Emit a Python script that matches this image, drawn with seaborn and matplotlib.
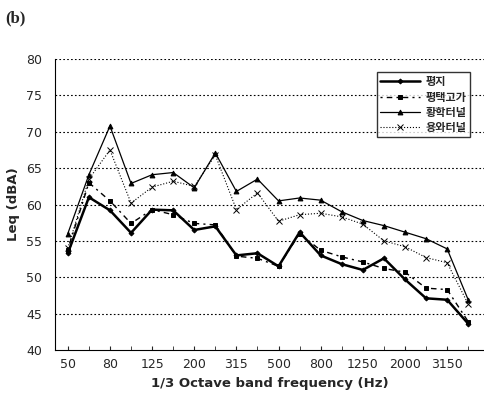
import pandas as pd
import matplotlib.pyplot as plt
import seaborn as sns

# 1/3 octave band centre frequencies (Hz)
freqs = [50, 63, 80, 100, 125, 160, 200, 250, 315, 400, 500, 630,
         800, 1000, 1250, 1600, 2000, 2500, 3150, 4000]
tick_labels = ['50', '80', '125', '200', '315', '500', '800', '1250', '2000', '3150']

# Leq (dBA)
pyeongji = [53.3, 61.0, 59.2, 56.1, 59.3, 59.2, 56.5, 57.0, 53.0, 53.3,
            51.5, 56.2, 53.0, 51.8, 51.0, 52.6, 49.7, 47.1, 46.9, 43.6]
pyeongtaek = [53.8, 63.0, 60.5, 57.4, 59.3, 58.6, 57.4, 57.2, 52.9, 52.6,
              51.5, 56.0, 53.7, 52.8, 52.1, 51.2, 50.7, 48.5, 48.3, 43.9]
hwanghak = [56.0, 64.1, 70.8, 62.9, 64.1, 64.4, 62.3, 67.1, 61.8, 63.5,
            60.5, 60.9, 60.6, 59.0, 57.8, 57.1, 56.2, 55.3, 53.9, 46.9]
yongwa = [54.0, 63.5, 67.5, 60.2, 62.4, 63.2, 62.5, 66.8, 59.3, 61.6,
          57.7, 58.6, 58.8, 58.3, 57.3, 55.0, 54.2, 52.7, 52.0, 46.3]

names = ['평지', '평택고가', '황학터널', '용와터널']
series = [pyeongji, pyeongtaek, hwanghak, yongwa]

sns.set_style("white")
plt.rcParams['font.family'] = ['DejaVu Sans', 'Noto Sans CJK KR']

fig = plt.figure(figsize=(4.84, 4.05), dpi=100)
ax = fig.add_axes([0.114, 0.136, 0.886, 0.718])

pos = list(range(len(freqs)))
styles = [
    dict(linestyle='-', linewidth=1.8, marker='D', markersize=2.5),
    dict(linestyle=(0, (1.5, 3, 4, 3)), linewidth=1.0, marker='s', markersize=3.5),
    dict(linestyle='-', linewidth=0.9, marker='^', markersize=3.5),
    dict(linestyle=':', linewidth=0.8, marker='x', markersize=5),
]
for name, vals, st in zip(names, series, styles):
    df = pd.DataFrame({'pos': pos, 'leq': vals})
    sns.lineplot(data=df, x='pos', y='leq', ax=ax, color='black', label=name,
                 markeredgecolor='black', markeredgewidth=0.7, **st)

ax.set_ylim(40, 80)
ax.set_yticks(range(40, 81, 5))
ax.set_xlim(-0.6, 19.75)
ax.set_xticks(pos[::2])
ax.set_xticklabels(tick_labels)
ax.set_xticks(pos, minor=True)
ax.tick_params(axis='x', which='both', direction='in', length=3, bottom=True)
ax.tick_params(axis='both', labelsize=9, pad=6)
for y in range(45, 81, 5):
    ax.axhline(y, color='black', linestyle=(0, (1.5, 2)), linewidth=0.8, zorder=0)
ax.spines['top'].set_visible(False)
ax.spines['right'].set_visible(False)
ax.spines['left'].set_color('black')
ax.spines['bottom'].set_color('black')

ax.set_xlabel('1/3 Octave band frequency (Hz)', fontsize=9.5, fontweight='bold')
ax.set_ylabel('Leq (dBA)', fontsize=9.5, fontweight='bold')

leg = ax.legend(loc='upper right', bbox_to_anchor=(0.98, 0.975), frameon=True,
                fancybox=False, edgecolor='black', handlelength=3.6,
                borderpad=0.3, labelspacing=0.2, handletextpad=0.5,
                prop={'family': ['Noto Sans CJK KR'], 'weight': 'bold', 'size': 8})
leg.get_frame().set_linewidth(1.0)

fig.text(0.01, 0.975, '(b)', fontsize=12, family='Liberation Serif',
         fontweight='bold', va='top')

fig.savefig('out.png', dpi=100)
